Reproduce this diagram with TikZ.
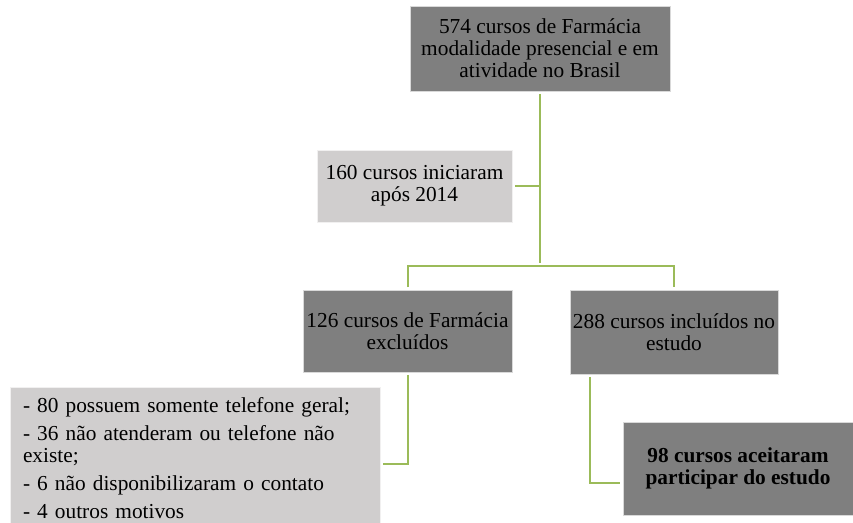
\documentclass[tikz,border=0pt]{standalone}
\usepackage{fontspec}
\setmainfont{Liberation Serif}
\usetikzlibrary{
		calc,
		positioning
	}
\definecolor{boxdark}{HTML}{7F7F7F}
\definecolor{boxlight}{HTML}{D0CECE}
\definecolor{linkgreen}{HTML}{9BBB59}
\tikzset{
		darkbox/.style={fill=boxdark, draw=white!70!boxdark, line width=.4pt, inner sep=1pt, align=center, font=\fontsize{16}{16.5}\selectfont},
		lightbox/.style={darkbox, fill=boxlight, draw=white!70!boxlight},
		link/.style={draw=linkgreen, line width=1.5pt, shorten <=2pt, shorten >=2pt}
	}

\begin{document}
\begin{tikzpicture}[x=0.75pt, y=-0.75pt] % (each unit = one pixel of the reference, y going down)
		\useasboundingbox (0,0) rectangle (853,522);
		% the boxes
		\node[darkbox, minimum width=195pt, minimum height=63.75pt] (total) at (540,48.5)
		  {574 cursos de Farmácia\\modalidade presencial e em\\atividade no Brasil};
		\node[lightbox, minimum width=146.25pt, minimum height=54pt] (late) at (414.5,186)
		  {160 cursos iniciaram\\após 2014};
		\node[darkbox, minimum width=156.75pt, minimum height=61.5pt] (excl) at (407.5,331)
		  {126 cursos de Farmácia\\excluídos};
		\node[darkbox, minimum width=156pt, minimum height=63pt] (incl) at (674,332)
		  {288 cursos incluídos no\\estudo};
		\node[darkbox, font=\fontsize{16}{16.5}\selectfont\bfseries, minimum width=172.5pt, minimum height=69.75pt] (accept) at (738,468.5)
		  {98 cursos aceitaram\\participar do estudo};
		\node[lightbox, align=left, text width=258pt, inner xsep=9.75pt, minimum height=107.25pt] (reasons) at (195,458.5)
		  {- 80 possuem somente telefone geral;\\[4.5pt]
		   - 36 não atenderam ou telefone não\\existe;\\[4.5pt]
		   - 6 não disponibilizaram o contato\\[4.5pt]
		   - 4 outros motivos};
		% the connectors
		\coordinate (split) at (540,266);
		\draw[link] (total.south) -- (split);
		\draw[link, shorten >=0pt] (late.east) -- (late.east -| split);
		\draw[link] (excl.north) |- (split) -| (incl.north);
		\draw[link] (excl.south) |- ($(reasons.east)+(0,5)$);
		\draw[link] ($(incl.south west)+(20,0)$) |- ($(accept.west)+(0,14)$);
	\end{tikzpicture}
\end{document}
